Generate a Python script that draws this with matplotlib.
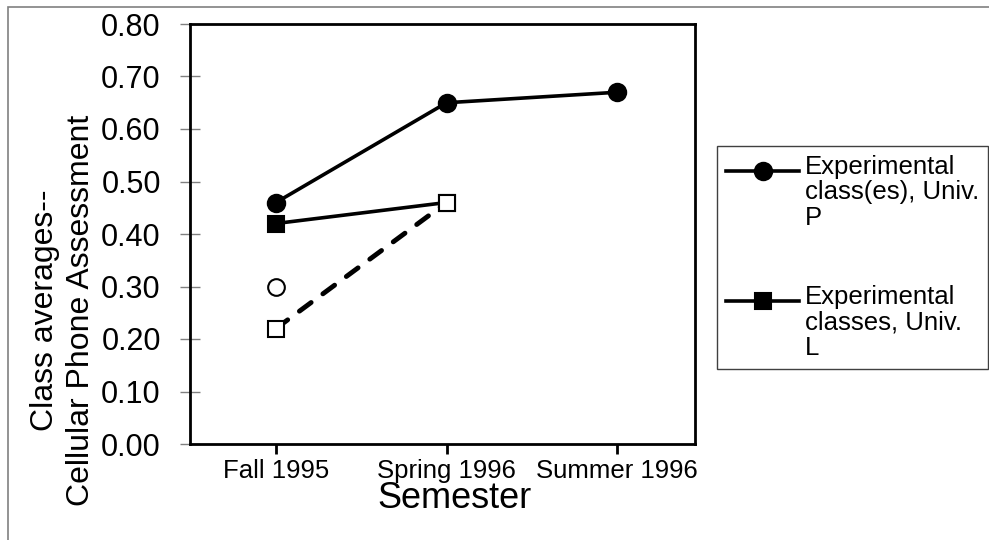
import matplotlib
matplotlib.use('Agg')
import matplotlib.pyplot as plt
from matplotlib.legend_handler import HandlerLine2D
from matplotlib.patches import Rectangle
import numpy as np

plt.rcParams['font.family'] = ['Liberation Sans', 'DejaVu Sans']

# data
semesters = ['Fall 1995', 'Spring 1996', 'Summer 1996']
exp_univ_p = [0.46, 0.65, 0.67]       # filled circles, solid
exp_univ_l = [0.42, 0.46]             # filled squares, solid
ctrl_univ_l = [0.22, 0.46]            # open squares, dashed
ctrl_univ_p = [0.30]                  # open circle, no line

legend_labels = ['Experimental\nclass(es), Univ.\nP',
                 'Experimental\nclasses, Univ.\nL']

x = np.arange(len(semesters))

fig = plt.figure(figsize=(9.89, 5.40), dpi=100)
ax = fig.add_axes([190/989, 1-444/540, 505/989, 420/540])

l1, = ax.plot(x[:len(exp_univ_p)], exp_univ_p, '-o', color='black', lw=2.6,
              ms=12.5, mew=1.5, mfc='black', mec='black', zorder=3)
l2, = ax.plot(x[:len(exp_univ_l)], exp_univ_l, '-s', color='black', lw=2.6,
              ms=12, mew=1.5, mfc='black', mec='black', zorder=3)
ax.plot(x[:len(ctrl_univ_l)], ctrl_univ_l, color='black', lw=3.5,
        linestyle=(0, (3, 3)), dash_capstyle='round', zorder=3)
ax.plot(x[:len(ctrl_univ_l)], ctrl_univ_l, 's', color='black', ms=12,
        mew=1.5, mfc='white', mec='black', zorder=4)
ax.plot(x[:len(ctrl_univ_p)], ctrl_univ_p, 'o', color='black', ms=12,
        mew=1.5, mfc='white', mec='black', zorder=4)

ax.set_xlim(-0.504, 2.457)
ax.set_ylim(0, 0.8)
ax.set_xticks(x)
ax.set_xticklabels(semesters, fontsize=18.5)
ax.set_yticks(np.arange(0, 0.81, 0.1))
ax.set_yticklabels([f'{v:.2f}' for v in np.arange(0, 0.81, 0.1)], fontsize=22)

for s in ax.spines.values():
    s.set_linewidth(2)
    s.set_color('black')
ax.tick_params(axis='y', direction='inout', length=14, width=1, color='#808080', pad=14)
ax.tick_params(axis='x', direction='out', length=7.5, width=2, color='black', pad=3.5)

# axis titles
fig.text(455/989, 1-508/540, 'Semester', ha='center', va='baseline', fontsize=26)
fig.text(63/989, 1-310/540, 'Class averages--\nCellular Phone Assessment',
         rotation=90, ha='center', va='center', multialignment='center',
         fontsize=23, linespacing=1.3)


# legend handle sits at the first text line
class TopLine(HandlerLine2D):
    def create_artists(self, legend, orig_handle, xdescent, ydescent,
                       width, height, fontsize, trans):
        return super().create_artists(legend, orig_handle, xdescent,
                                      ydescent - 2 * 16, width, height,
                                      fontsize, trans)


leg = ax.legend([l1, l2], legend_labels, loc='upper left',
                bbox_to_anchor=(717/989, 1-146/540), bbox_transform=fig.transFigure,
                borderaxespad=0, fontsize=18.5, numpoints=1, handlelength=2.85,
                handletextpad=0.22, borderpad=0.35, labelspacing=2.15,
                fancybox=False, framealpha=1, edgecolor='#404040',
                handler_map={l1: TopLine(), l2: TopLine()})
leg.get_frame().set_linewidth(1)
for t in leg.get_texts():
    t.set_linespacing(1.07)

# outer chart border (only top/left visible)
fig.add_artist(Rectangle((8/989, -1), 2, 2 - 7/540, transform=fig.transFigure,
                         fill=False, edgecolor='#808080', lw=1.2, clip_on=False))

fig.savefig('out.png', dpi=100)
